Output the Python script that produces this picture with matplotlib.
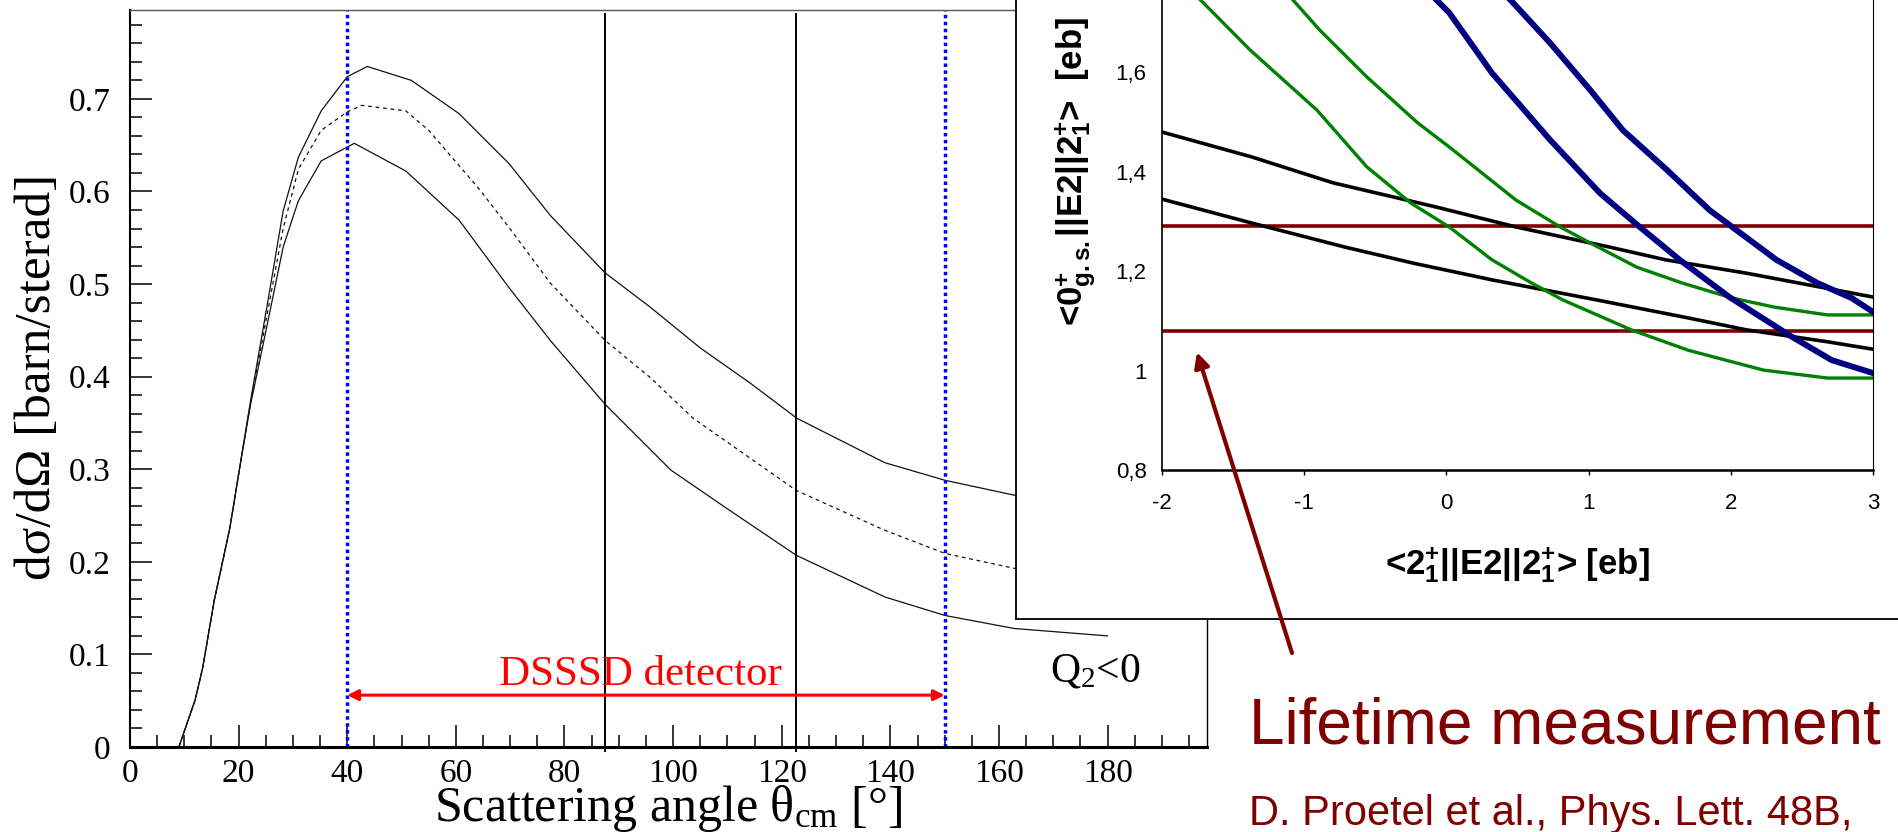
import matplotlib
matplotlib.use("Agg")
import matplotlib.pyplot as plt
from matplotlib import font_manager
from matplotlib.ticker import MultipleLocator, FuncFormatter

# cross sections d(sigma)/d(Omega) vs centre-of-mass angle, three Q2 variants
upper_theta = [9, 12, 13.4, 15.5, 18.4, 20.4, 22.2, 25.4, 28.2, 31, 35.2, 40, 43.7, 51.8,
               60.6, 69.8, 77.4, 87.5, 95.8, 105, 114.2, 122.8, 139, 150.1, 162.8, 171, 180]
upper_sigma = [0, 0.051, 0.086, 0.158, 0.237, 0.309, 0.374, 0.482, 0.579, 0.637, 0.687, 0.724,
               0.735, 0.720, 0.684, 0.630, 0.574, 0.512, 0.475, 0.431, 0.393, 0.355, 0.307,
               0.288, 0.272, 0.267, 0.265]
mid_theta = [9, 12, 13.4, 15.5, 18.4, 20.4, 22.2, 25.4, 28.2, 31, 35.2, 40, 42.7, 50.8, 55,
             64.1, 69.8, 77.4, 87.5, 95.8, 103.7, 122.7, 139, 150.1, 162.8, 171, 180]
mid_sigma = [0, 0.051, 0.086, 0.158, 0.237, 0.309, 0.372, 0.472, 0.560, 0.624, 0.666, 0.686,
             0.693, 0.687, 0.666, 0.604, 0.561, 0.501, 0.439, 0.399, 0.355, 0.277, 0.234,
             0.209, 0.193, 0.188, 0.186]
lower_theta = [9, 12, 13.4, 15.5, 18.4, 20.4, 22.2, 25.4, 28.2, 31, 35.2, 41.3, 50.8, 60.6,
               69.8, 77.4, 87.5, 99.6, 110.3, 122.7, 139, 150.1, 162.8, 180]
lower_sigma = [0, 0.051, 0.086, 0.158, 0.237, 0.309, 0.370, 0.460, 0.540, 0.590, 0.633, 0.652,
               0.622, 0.569, 0.496, 0.439, 0.370, 0.299, 0.256, 0.207, 0.162, 0.142, 0.128,
               0.120]
detector_range = [40, 150]
strip_edges = [87.5, 122.7]

# matrix element constraints <0+||E2||2+> vs <2+||E2||2+>
black_hi_x = [-2, -1.37, -0.80, -0.07, 0.49, 1.14, 1.54, 2.11, 2.63, 3.0]
black_hi_y = [1.48, 1.43, 1.378, 1.329, 1.289, 1.249, 1.223, 1.196, 1.168, 1.148]
black_lo_x = [-2, -1.37, -0.72, -0.23, 0.33, 1.06, 1.70, 2.11, 2.68, 3.0]
black_lo_y = [1.345, 1.297, 1.249, 1.216, 1.182, 1.142, 1.106, 1.082, 1.058, 1.043]
green_a_x = [-1.73, -1.38, -0.91, -0.56, -0.25, 0.02, 0.32, 0.60, 0.82, 1.30, 1.70, 2.23, 2.68, 3.0]
green_a_y = [1.746, 1.645, 1.524, 1.41, 1.337, 1.289, 1.223, 1.176, 1.142, 1.082, 1.041, 1.001,
             0.985, 0.985]
green_b_x = [-1.08, -0.89, -0.56, -0.20, 0.02, 0.49, 0.80, 1.01, 1.34, 1.66, 2.01, 2.3, 2.68, 3.0]
green_b_y = [1.746, 1.685, 1.591, 1.498, 1.45, 1.343, 1.289, 1.257, 1.208, 1.176, 1.146, 1.128,
             1.112, 1.112]
blue_a_x = [-0.07, 0.02, 0.32, 0.73, 1.08, 1.36, 1.64, 1.99, 2.43, 2.71, 3.0]
blue_a_y = [1.746, 1.72, 1.599, 1.464, 1.357, 1.289, 1.223, 1.148, 1.068, 1.021, 0.995]
blue_b_x = [0.45, 0.73, 1.01, 1.24, 1.55, 1.85, 2.01, 2.32, 2.61, 2.85, 3.0]
blue_b_y = [1.746, 1.659, 1.565, 1.484, 1.404, 1.323, 1.289, 1.223, 1.176, 1.146, 1.118]
lifetime_limits = [1.08, 1.291]
inset_yticks = [0.8, 1.0, 1.2, 1.4, 1.6]
inset_yticklabels = ["0,8", "1", "1,2", "1,4", "1,6"]

installed = {f.name for f in font_manager.fontManager.ttflist}
narrow = "Liberation Sans Narrow" if "Liberation Sans Narrow" in installed else "Liberation Sans"
serif = "Liberation Serif"
maroon = "#800000"

plt.rcParams["axes.unicode_minus"] = False
plt.rcParams["mathtext.fontset"] = "custom"
plt.rcParams["mathtext.rm"] = serif
plt.rcParams["mathtext.it"] = serif + ":italic"
plt.rcParams["mathtext.bf"] = narrow + ":bold"

W, H = 1899, 832


def box(x0, y0, x1, y1):
    # pixel rectangle (y from the top) -> figure fraction
    return [x0 / W, 1 - y1 / H, (x1 - x0) / W, (y1 - y0) / H]


fig = plt.figure(figsize=(W / 100, H / 100), dpi=100)

# ---- left panel: angular distribution
ax = fig.add_axes(box(130, 10, 1207, 747))
ax.plot(upper_theta, upper_sigma, color="#111111", lw=0.9)
ax.plot(mid_theta, mid_sigma, color="#111111", lw=0.9, ls=(0, (3, 3)))
ax.plot(lower_theta, lower_sigma, color="#111111", lw=0.9)
for th in detector_range:
    ax.axvline(th, color="#0000ff", lw=2.5, ls=(0, (1, 1)), dash_capstyle="butt")
for th in strip_edges:
    ax.plot([th, th], [-0.004, 0.792], color="black", lw=1.4, clip_on=False)

ax.annotate("", xy=(detector_range[0], 0.056), xytext=(detector_range[1], 0.056),
            arrowprops=dict(arrowstyle="<|-|>", color="#ff0000", lw=2.2,
                            mutation_scale=16, shrinkA=0, shrinkB=0))
ax.text(93.9, 0.067, "DSSSD detector", color="#ff0000", fontsize=31, family=serif,
        ha="center", va="baseline")
ax.text(169.4, 0.071, r"Q$_{\mathrm{2}}$<0", fontsize=30, family=serif, ha="left",
        va="baseline")

ax.set_xlim(0, 198.3)
ax.set_ylim(0, 0.796)
ax.xaxis.set_major_locator(MultipleLocator(20))
ax.xaxis.set_minor_locator(MultipleLocator(5))
ax.yaxis.set_major_locator(MultipleLocator(0.1))
ax.yaxis.set_minor_locator(MultipleLocator(0.02))
ax.yaxis.set_major_formatter(FuncFormatter(lambda v, _: "0" if abs(v) < 1e-9 else f"{v:.1f}"))
ax.tick_params(which="both", direction="in", top=False, right=False, width=1.1,
               labelsize=24, labelfontfamily=serif)
ax.tick_params(which="major", length=15.8)
ax.tick_params(which="minor", length=8.6)
ax.tick_params(axis="x", pad=8)
ax.tick_params(axis="y", pad=14)
ax.spines["bottom"].set_linewidth(2.2)
ax.spines["left"].set_linewidth(1.5)
ax.spines["top"].set_linewidth(1.0)
ax.spines["top"].set_color("#555555")
ax.spines["right"].set_linewidth(1.0)

ax.set_xlabel(r"Scattering angle θ$_{\mathrm{cm}}$ [°]", fontsize=36, family=serif, va="center")
ax.xaxis.set_label_coords(0.5, -0.084)
ax.set_ylabel("dσ/dΩ [barn/sterad]", fontsize=37, family=serif, va="center")
ax.yaxis.set_label_coords(-0.0854, 0.502)

# ---- inset: white card with the E2 matrix element plot
card = fig.add_axes(box(1016, -20, 1930, 619))
card.set_xticks([])
card.set_yticks([])
for s in card.spines.values():
    s.set_linewidth(1.3)
    s.set_color("black")

ax2 = fig.add_axes(box(1162, 470 - 497, 1873, 470))
ax2.set_facecolor("none")
for yv in lifetime_limits:
    ax2.axhline(yv, color=maroon, lw=2.6)
ax2.plot(black_hi_x, black_hi_y, color="black", lw=2.6)
ax2.plot(black_lo_x, black_lo_y, color="black", lw=2.6)
ax2.plot(green_a_x, green_a_y, color="#008000", lw=2.4)
ax2.plot(green_b_x, green_b_y, color="#008000", lw=2.4)
ax2.plot(blue_a_x, blue_a_y, color="#000080", lw=4.3)
ax2.plot(blue_b_x, blue_b_y, color="#000080", lw=4.3)

ax2.set_xlim(-2, 3)
ax2.set_ylim(0.8, 1.8)
ax2.set_xticks(range(-2, 4))
ax2.set_yticks(inset_yticks)
ax2.set_yticklabels(inset_yticklabels)
ax2.tick_params(axis="x", direction="out", length=3.6, width=1.0, pad=13,
                labelsize=16, labelfontfamily=narrow)
ax2.tick_params(axis="y", length=0, pad=11, labelsize=16, labelfontfamily=narrow)
ax2.spines["left"].set_linewidth(1.2)
ax2.spines["bottom"].set_linewidth(1.8)
ax2.spines["right"].set_linewidth(0.8)

ax2.set_xlabel(r"<2$^{\mathbf{+}}_{\mathbf{1}}$||E2||2$^{\mathbf{+}}_{\mathbf{1}}$> [eb]",
               fontsize=25, family=narrow, fontweight="bold", va="center")
ax2.xaxis.set_label_coords(0.5, -0.191)
ax2.set_ylabel(r"<0$^{\mathbf{+}}_{\mathbf{g.s.}}$||E2||2$^{\mathbf{+}}_{\mathbf{1}}$>  [eb]",
               fontsize=25, family=narrow, fontweight="bold", va="center")
ax2.yaxis.set_label_coords(-0.122, 0.600)

ax2.annotate("", xy=(-1.754, 1.037), xycoords="data",
             xytext=(1292, H - 653), textcoords="figure pixels", annotation_clip=False,
             arrowprops=dict(arrowstyle="-|>", color=maroon, lw=3.0, mutation_scale=22,
                             shrinkA=0, shrinkB=0))

fig.text(1249 / W, 1 - 743 / H, "Lifetime measurement", color=maroon, fontsize=46,
         family="Liberation Sans", ha="left", va="baseline")
fig.text(1249 / W, 1 - 825 / H, "D. Proetel et al., Phys. Lett. 48B,", color=maroon,
         fontsize=30, family="Liberation Sans", ha="left", va="baseline")

fig.savefig("out.png", dpi=100)
